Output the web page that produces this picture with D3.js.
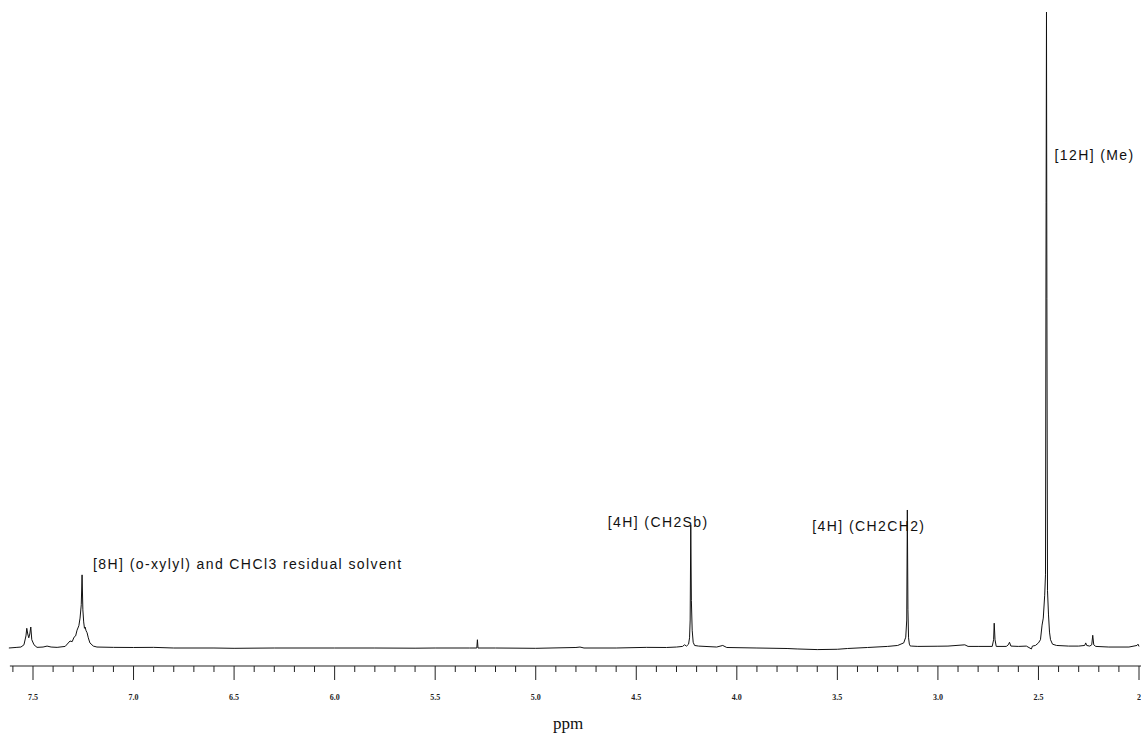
<!DOCTYPE html>
<html>
<head>
<meta charset="utf-8">
<script src="https://cdn.jsdelivr.net/npm/d3@7"></script>
<style>
    body { margin: 0; background: #fff; }
    .peak-label { font-family: 'Liberation Sans', Arial, sans-serif; font-size: 14px; letter-spacing: 1.4px; fill: #111; }
    .tick-label { font-family: 'Liberation Serif', 'Times New Roman', serif; font-size: 8px; font-weight: bold; fill: #222; }
    .axis-title { font-family: 'Liberation Serif', 'Times New Roman', serif; font-size: 17px; fill: #111; }
</style>
</head>
<body>
<div id="chart"></div>
<script>
// chemical shift (ppm) and intensity (tallest peak = 100)
const tracePpm = [
    7.62, 7.58, 7.56, 7.545, 7.535, 7.531, 7.526, 7.521, 7.516, 7.511, 7.506, 7.495, 7.48,
    7.45, 7.43, 7.41, 7.38, 7.34, 7.316, 7.305, 7.296, 7.288, 7.281, 7.272, 7.266, 7.26,
    7.256, 7.252, 7.248, 7.244, 7.241, 7.236, 7.231, 7.225, 7.217, 7.2, 7.182, 7.1, 7.0,
    6.9, 6.8, 6.6, 6.5, 6.3, 6.0, 5.8, 5.6, 5.5, 5.33, 5.293, 5.29, 5.287, 5.2, 5.0,
    4.8, 4.78, 4.76, 4.6, 4.45, 4.35, 4.3, 4.27, 4.26, 4.25, 4.24, 4.235, 4.232, 4.229,
    4.226, 4.222, 4.217, 4.21, 4.19, 4.1, 4.07, 4.05, 3.9, 3.75, 3.7, 3.6, 3.5, 3.45,
    3.35, 3.25, 3.2, 3.17, 3.16, 3.155, 3.152, 3.149, 3.146, 3.142, 3.137, 3.13, 3.1,
    3.0, 2.95, 2.866, 2.85, 2.8, 2.73, 2.723, 2.72, 2.716, 2.71, 2.66, 2.65, 2.644,
    2.637, 2.6, 2.56, 2.535, 2.53, 2.515, 2.5, 2.49, 2.482, 2.476, 2.469, 2.465, 2.462,
    2.46, 2.458, 2.455, 2.45, 2.445, 2.44, 2.43, 2.41, 2.35, 2.3, 2.27, 2.265, 2.26,
    2.245, 2.235, 2.23, 2.225, 2.215, 2.15, 2.05, 2.01, 2.005, 2.0
];
const traceIntensity = [
    0, 0.1, 0.15, 0.5, 1.9, 3.1, 2.2, 1.6, 2.2, 3.3, 1.3, 0.5, 0.1,
    0.15, 0.3, 0.15, 0.1, 0.25, 1.1, 1.0, 1.7, 1.9, 2.8, 3.5, 4.7, 6.8,
    11.5, 6.0, 4.1, 3.1, 3.3, 2.7, 2.4, 1.6, 0.8, 0.3, 0.15, 0.1, 0.08,
    0.1, 0, 0, -0.05, 0, 0, 0, -0.03, 0, 0, 0, 1.3, 0, 0, -0.05,
    0.08, 0.15, 0, 0, 0.1, 0.08, 0.15, 0.25, 0.5, 0.3, 0.6, 1.6, 4.4, 19.3,
    7.5, 2.8, 0.9, 0.4, 0.3, 0.15, 0.4, 0.08, 0, -0.08, -0.15, -0.25, -0.2, -0.08,
    0.08, 0.25, 0.4, 0.8, 1.7, 4.4, 21.7, 6, 1.6, 0.6, 0.3, 0.3, 0.25,
    0.28, 0.3, 0.5, 0.25, 0.25, 0.25, 1.3, 3.9, 1.3, 0.25, 0.25, 0.5, 0.9,
    0.3, 0.25, 0.3, -0.15, 0.3, 0.4, 0.8, 1.3, 3.6, 4.7, 8.3, 11.5, 70,
    100, 55, 9, 5.2, 2.5, 1.3, 0.6, 0.4, 0.3, 0.3, 0.4, 0.8, 0.4,
    0.3, 0.5, 2.0, 0.5, 0.25, 0.15, 0.15, 0.4, 0.6, 0.25
];

const majorTicks = [7.5, 7.0, 6.5, 6.0, 5.5, 5.0, 4.5, 4.0, 3.5, 3.0, 2.5, 2.0];
const tickLabels = ['7.5', '7.0', '6.5', '6.0', '5.5', '5.0', '4.5', '4.0', '3.5', '3.0', '2.5', '2'];
const minorTicks = d3.range(76, 19, -1).map(v => v / 10);

const peakLabels = [
    '[8H] (o-xylyl) and CHCl3 residual solvent',
    '[4H] (CH2Sb)',
    '[4H] (CH2CH2)',
    '[12H] (Me)'
];
const peakShifts = [7.256, 4.229, 3.152, 2.46];

const axisTitle = 'ppm';

class SpectrumUtilities {

    static initializeSVG(height, width, parentid) {
        return d3.select(parentid).append('svg')
            .attr('height', height)
            .attr('width', width);
    }

    static appendTicks(group, x, values, size) {
        group.selectAll(null)
            .data(values)
            .join('line')
            .attr('x1', d => x(d))
            .attr('x2', d => x(d))
            .attr('y1', 0)
            .attr('y2', size)
            .attr('stroke', '#222')
            .attr('stroke-width', 1);
    }
}

const width = 1141;
const height = 734;
const axisY = 666;

const svg = SpectrumUtilities.initializeSVG(height, width, '#chart');

// 7.5 ppm sits at x=33, 2.0 ppm at x=1139 (reversed shift axis)
const x = d3.scaleLinear().domain([7.5, 2.0]).range([33, 1139]);
const y = d3.scaleLinear().domain([0, 100]).range([648, 12]);

// trace
const line = d3.line()
    .x((d, i) => x(tracePpm[i]))
    .y((d, i) => y(traceIntensity[i]));

svg.append('path')
    .datum(tracePpm)
    .attr('d', line)
    .attr('fill', 'none')
    .attr('stroke', '#111')
    .attr('stroke-width', 1)
    .attr('stroke-linejoin', 'round');

// axis
const axis = svg.append('g').attr('transform', `translate(0, ${axisY})`);
axis.append('line')
    .attr('x1', x(7.615))
    .attr('x2', x(1.99))
    .attr('y1', 0)
    .attr('y2', 0)
    .attr('stroke', '#222')
    .attr('stroke-width', 1.2);

SpectrumUtilities.appendTicks(axis, x, minorTicks.filter(v => !majorTicks.includes(v)), 6);
SpectrumUtilities.appendTicks(axis, x, majorTicks, 14);

axis.selectAll('text.tick-label')
    .data(majorTicks)
    .join('text')
    .attr('class', 'tick-label')
    .attr('x', d => x(d))
    .attr('y', 34)
    .attr('text-anchor', 'middle')
    .text((d, i) => tickLabels[i]);

svg.append('text')
    .attr('class', 'axis-title')
    .attr('x', 568)
    .attr('y', 729)
    .attr('text-anchor', 'middle')
    .text(axisTitle);

// annotation offsets from each peak (px)
const labelOffsets = [[11, 569], [-83, 527], [-95, 531], [8, 160]];

svg.selectAll('text.peak-label')
    .data(peakLabels)
    .join('text')
    .attr('class', 'peak-label')
    .attr('x', (d, i) => x(peakShifts[i]) + labelOffsets[i][0])
    .attr('y', (d, i) => labelOffsets[i][1])
    .text(d => d);
</script>
</body>
</html>
